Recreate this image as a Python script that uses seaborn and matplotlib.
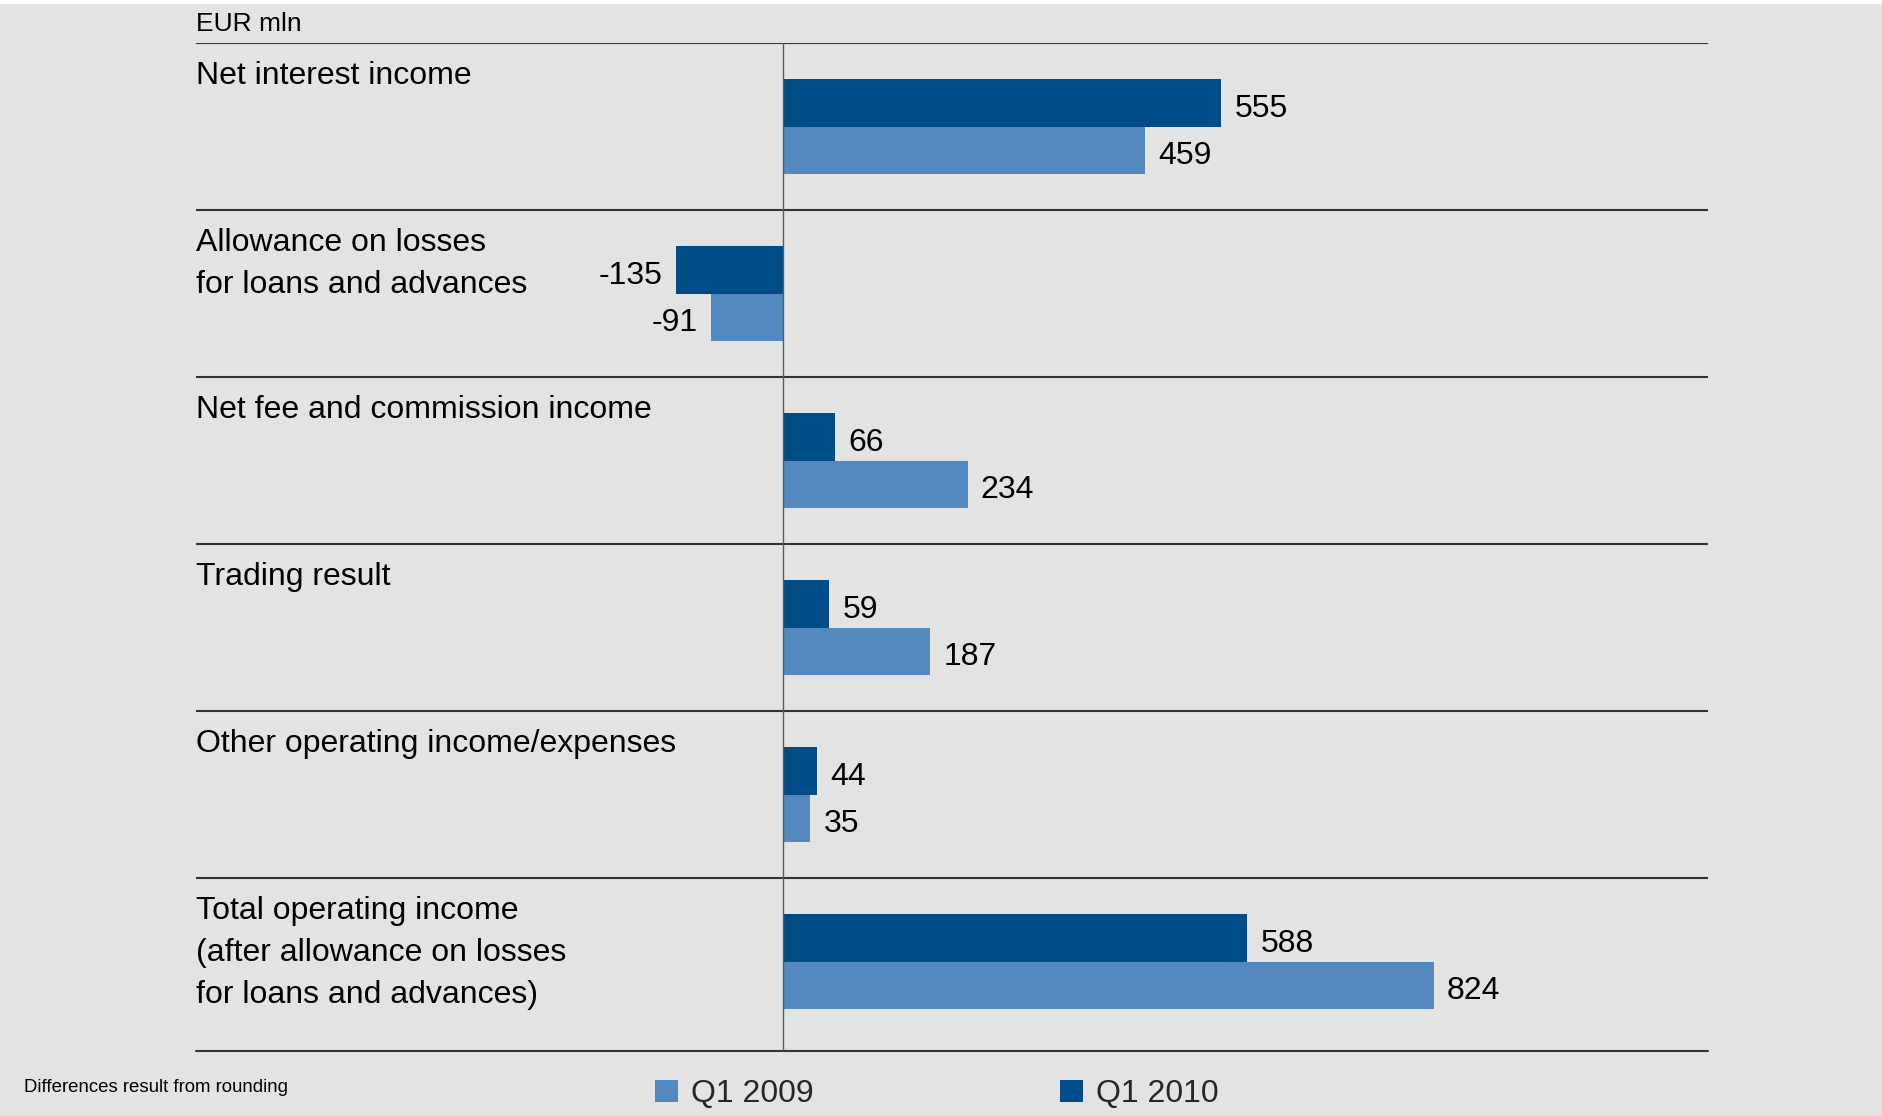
import matplotlib
matplotlib.use("Agg")
import matplotlib.pyplot as plt
from matplotlib.patches import Rectangle, Patch
import seaborn as sns
import pandas as pd

# ---- data ----
categories = [
    "Net interest income",
    "Allowance on losses\nfor loans and advances",
    "Net fee and commission income",
    "Trading result",
    "Other operating income/expenses",
    "Total operating income\n(after allowance on losses\nfor loans and advances)",
]
q1_2010 = [555, -135, 66, 59, 44, 588]
q1_2009 = [459, -91, 234, 187, 35, 824]
series_names = ["Q1 2009", "Q1 2010"]
unit_label = "EUR mln"
footnote = "Differences result from rounding"

BG = "#E3E3E3"
DARK = "#004C86"
LIGHT = "#5389BE"
FONT = "Liberation Sans"

sns.set_theme(style="white")
plt.rcParams["font.family"] = [FONT, "DejaVu Sans"]

df = pd.DataFrame({
    "category": categories * 2,
    "value": q1_2010 + q1_2009,
    "period": ["Q1 2010"] * len(categories) + ["Q1 2009"] * len(categories),
})

W, H = 1883, 1116
fig = plt.figure(figsize=(W / 100, H / 100), dpi=100, facecolor=BG)
fig.patches.append(Rectangle((0, 1 - 3 / H), 1, 3 / H, transform=fig.transFigure,
                             color="white", zorder=0))

left_px, right_px, top_px, bot_px = 196, 1708, 43, 1051
ax = fig.add_axes([left_px / W, 1 - bot_px / H, (right_px - left_px) / W,
                   (bot_px - top_px) / H])
ax.set_facecolor("none")

sns.barplot(data=df, y="category", x="value", hue="period",
            hue_order=["Q1 2010", "Q1 2009"],
            palette={"Q1 2010": DARK, "Q1 2009": LIGHT},
            orient="h", width=0.57, saturation=1, linewidth=0,
            edgecolor="none", ax=ax, legend=False)

zero_px = 782.7
ppu = 0.79
ax.set_xlim((left_px - zero_px) / ppu, (right_px - zero_px) / ppu)
last = len(categories) - 1
ax.set_ylim(last + 0.535, -0.5)

for s in ax.spines.values():
    s.set_visible(False)
ax.set_xticks([])
ax.set_yticks([])
ax.set_xlabel("")
ax.set_ylabel("")

# separator lines
for i in range(len(categories)):
    ax.axhline(i - 0.5, color="#333333", lw=1.5, zorder=1)
ax.axhline(last + 0.535, color="#333333", lw=1.5, zorder=1, clip_on=False)
ax.axvline(0, color="#5a5a5a", lw=1.0, zorder=3)

# category labels (one text per line, baseline aligned)
row_px = (bot_px - top_px) / (last + 1.035)
base_off = 41.3 / row_px
line_step = 42.0 / row_px
tr = ax.get_yaxis_transform()
for i, c in enumerate(categories):
    for k, line in enumerate(c.split("\n")):
        ax.text(0, i - 0.5 + base_off + k * line_step, line, transform=tr,
                ha="left", va="baseline", fontsize=23, color="black")

# value labels
for cont in ax.containers:
    labels = ax.bar_label(cont, fmt="%d", padding=9.5, fontsize=23, color="black")
    for t in labels:
        t.set_va("center_baseline")
        dx, dy = t.xyann
        t.xyann = (dx, dy - 1.8)

# unit label and footnote
fig.text(left_px / W, 1 - 24 / H, unit_label, ha="left", va="center",
         fontsize=19, color="black")
fig.text(24 / W, 1 - 1087 / H, footnote, ha="left", va="center",
         fontsize=13.4, color="black")

# legend
handles = [Patch(facecolor=LIGHT, edgecolor="none"), Patch(facecolor=DARK, edgecolor="none")]
fig.legend(handles, series_names, ncol=2, loc="center left",
           bbox_to_anchor=(655 / W, 1 - 1094 / H), frameon=False,
           fontsize=23, handlelength=0.72, handleheight=0.69,
           handletextpad=0.42, columnspacing=7.7, borderpad=0, borderaxespad=0)

fig.savefig("out.png", dpi=100, facecolor=BG)
